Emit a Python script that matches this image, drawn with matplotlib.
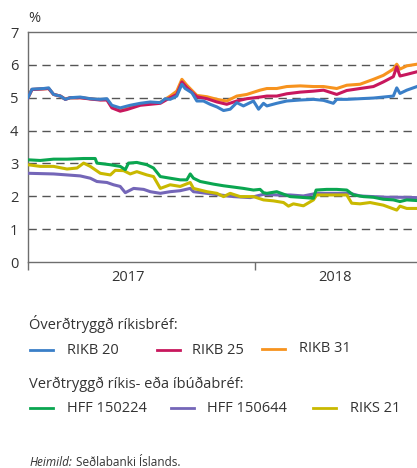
import matplotlib
matplotlib.use("Agg")
import matplotlib.pyplot as plt
from matplotlib.lines import Line2D

plt.rcParams['font.family'] = ['Open Sans', 'DejaVu Sans']

# x values: months since start of 2017
rikb_x = [0, 0.21, 0.83, 1.09, 1.35, 1.71, 1.97, 2.23, 2.76, 3.29, 3.82, 4.17, 4.43, 4.87, 5.40,
          5.93, 6.46, 6.99, 7.25, 7.51, 7.86, 8.13, 8.30, 8.66, 8.92, 9.27, 9.62, 9.98, 10.33,
          10.68, 11.03, 11.38, 11.91, 12.18, 12.44, 12.62, 13.14, 13.67, 14.38, 15.08, 15.61,
          16.13, 16.31, 16.84, 17.54, 18.25, 18.77, 19.30, 19.48, 19.65, 20.01, 20.55]
rikb20 = [5.00, 5.26, 5.28, 5.30, 5.10, 5.05, 4.95, 5.00, 5.02, 4.97, 4.95, 4.97, 4.77, 4.69, 4.77,
          4.83, 4.87, 4.85, 4.97, 4.95, 5.05, 5.41, 5.28, 5.15, 4.90, 4.90, 4.80, 4.72, 4.61,
          4.65, 4.85, 4.75, 4.90, 4.65, 4.83, 4.75, 4.83, 4.90, 4.93, 4.95, 4.92,
          4.83, 4.95, 4.95, 4.97, 4.99, 5.02, 5.05, 5.30, 5.13, 5.23, 5.34]

rikb25_x = [0, 0.21, 0.83, 1.09, 1.35, 1.71, 1.97, 2.23, 2.76, 3.29, 3.82, 4.17, 4.43, 4.87, 5.23,
            5.93, 6.99, 7.51, 7.86, 8.13, 8.39, 8.92, 9.45, 9.98, 10.50, 11.03, 11.56, 12.26,
            12.62, 13.14, 13.67, 14.38, 15.08, 15.61, 16.31, 16.84, 17.54, 18.25, 18.77, 19.30,
            19.48, 19.65, 20.01, 20.55]
rikb25 = [5.00, 5.25, 5.27, 5.28, 5.10, 5.05, 4.95, 5.00, 5.00, 4.96, 4.93, 4.93, 4.69, 4.59, 4.64,
          4.77, 4.83, 5.00, 5.10, 5.48, 5.31, 5.03, 4.97, 4.87, 4.80, 4.90, 4.97, 5.02,
          5.05, 5.05, 5.12, 5.17, 5.20, 5.23, 5.10, 5.22, 5.28, 5.34, 5.48, 5.64,
          5.94, 5.66, 5.71, 5.79]

rikb31_x = [0, 0.21, 0.83, 1.09, 1.35, 1.71, 1.97, 2.23, 2.76, 3.29, 3.82, 4.17, 4.43, 4.87, 5.23,
            5.93, 6.99, 7.51, 7.86, 8.13, 8.39, 8.92, 9.45, 9.98, 10.50, 11.03, 11.56, 12.26,
            12.62, 13.14, 13.67, 14.38, 15.08, 15.61, 16.31, 16.84, 17.54, 18.25, 18.77, 19.30,
            19.48, 19.65, 20.01, 20.55]
rikb31 = [5.00, 5.25, 5.27, 5.28, 5.10, 5.05, 4.96, 5.00, 5.00, 4.97, 4.94, 4.95, 4.72, 4.63, 4.68,
          4.80, 4.86, 5.05, 5.20, 5.56, 5.38, 5.07, 5.03, 4.95, 4.90, 5.05, 5.10, 5.23,
          5.28, 5.28, 5.34, 5.36, 5.34, 5.34, 5.28, 5.38, 5.41, 5.56, 5.68, 5.87,
          6.02, 5.87, 5.97, 6.02]

hff150224_x = [0, 0.65, 1.35, 2.06, 2.94, 3.55, 3.64, 4.35, 4.87, 5.14, 5.31, 5.75, 6.28, 6.63,
               6.99, 7.51, 8.04, 8.39, 8.57, 8.74, 9.10, 9.80, 10.33, 10.86, 11.38, 11.91, 12.26,
               12.44, 12.62, 13.14, 13.85, 14.38, 15.08, 15.22, 15.78, 16.31, 16.84, 17.19,
               17.72, 18.25, 18.77, 19.30, 19.65, 20.01, 20.55]
hff150224 = [3.11, 3.09, 3.13, 3.13, 3.15, 3.15, 3.01, 2.96, 2.91, 2.81, 3.01, 3.03, 2.96, 2.86,
             2.60, 2.55, 2.50, 2.50, 2.68, 2.55, 2.45, 2.37, 2.32, 2.28, 2.24, 2.19, 2.21,
             2.11, 2.09, 2.14, 1.99, 1.97, 1.94, 2.19, 2.21, 2.21, 2.19, 2.04,
             1.99, 1.97, 1.91, 1.89, 1.84, 1.89, 1.87]

hff150644_x = [0, 1.35, 2.06, 2.76, 3.29, 3.64, 4.17, 4.52, 4.87, 5.14, 5.58, 6.11, 6.46, 6.99,
               7.51, 8.04, 8.57, 8.74, 9.45, 10.15, 10.86, 11.74, 12.44, 13.14, 13.85, 14.55,
               15.25, 16.13, 17.01, 17.54, 18.25, 18.95, 19.65, 20.55]
hff150644 = [2.70, 2.68, 2.65, 2.62, 2.55, 2.45, 2.42, 2.35, 2.30, 2.11, 2.24, 2.21, 2.14, 2.09,
             2.14, 2.17, 2.24, 2.14, 2.09, 2.04, 1.99, 1.96, 2.06, 2.04, 2.04, 2.01,
             2.09, 2.09, 2.09, 2.01, 1.99, 1.97, 1.97, 1.96]

riks21_x = [0, 0.65, 1.35, 2.06, 2.59, 2.94, 3.29, 3.82, 4.35, 4.61, 5.05, 5.40, 5.75, 6.28,
            6.63, 6.99, 7.51, 8.04, 8.57, 8.74, 9.45, 9.98, 10.33, 10.68, 11.21, 11.91, 12.44,
            12.97, 13.50, 13.76, 14.02, 14.55, 15.08, 15.25, 15.78, 16.84, 17.10, 17.54, 18.07,
            18.77, 19.48, 19.65, 20.01, 20.55]
riks21 = [2.96, 2.91, 2.91, 2.83, 2.86, 3.01, 2.91, 2.70, 2.65, 2.79, 2.78, 2.68, 2.75, 2.65,
          2.60, 2.24, 2.35, 2.30, 2.42, 2.24, 2.14, 2.09, 1.99, 2.09, 1.99, 1.99, 1.89,
          1.86, 1.81, 1.70, 1.77, 1.71, 1.89, 2.04, 2.04, 2.04, 1.79, 1.77, 1.81,
          1.73, 1.58, 1.70, 1.63, 1.63]

y_ticks = [0, 1, 2, 3, 4, 5, 6, 7]
year_labels = ['2017', '2018']
year_label_pos = [5.30, 16.22]
year_tick_pos = [0, 12]

TXT = '#333333'
AXC = '#6e6e6e'
C_BLUE = '#3a7fc8'
C_MAG = '#c8175d'
C_ORA = '#f7931e'
C_GRN = '#0aa650'
C_PUR = '#7466b8'
C_YEL = '#c9b900'

W, H = 417, 468
fig = plt.figure(figsize=(W / 100, H / 100), dpi=100)
ax = fig.add_axes([28 / W, 1 - 262 / H, 1 - 28 / W, (262 - 32) / H])

ax.set_xlim(0, 20.55)
ax.set_ylim(0, 7)

for v in y_ticks[1:-1]:
    ax.axhline(v, color='#555555', lw=1.0, dashes=(6, 4), zorder=1)

lw = 2.2
ax.plot(hff150644_x, hff150644, color=C_PUR, lw=lw, zorder=3)
ax.plot(riks21_x, riks21, color=C_YEL, lw=lw, zorder=3)
ax.plot(hff150224_x, hff150224, color=C_GRN, lw=lw, zorder=3)
ax.plot(rikb31_x, rikb31, color=C_ORA, lw=lw, zorder=3)
ax.plot(rikb25_x, rikb25, color=C_MAG, lw=lw, zorder=3)
ax.plot(rikb_x, rikb20, color=C_BLUE, lw=lw, zorder=3)

for s in ['left', 'bottom', 'top']:
    ax.spines[s].set_color(AXC)
    ax.spines[s].set_linewidth(1.0)
ax.spines['right'].set_visible(False)

ax.set_yticks(y_ticks)
ax.set_yticklabels([str(v) for v in y_ticks])
ax.tick_params(axis='y', length=0, pad=7, labelsize=10.5, labelcolor=TXT)

ax.set_xticks(year_tick_pos)
ax.set_xticklabels(['', ''])
ax.tick_params(axis='x', which='major', length=6, width=1.0, color=AXC)
ax.set_xticks(year_label_pos, minor=True)
ax.set_xticklabels(year_labels, minor=True)
ax.tick_params(axis='x', which='minor', length=0, pad=6, labelsize=10.5, labelcolor=TXT)

fig.text(28 / W, 1 - 18 / H, '%', ha='left', va='center', fontsize=10.5, color=TXT)

# Legend
def leg_item(x0, y, label, color, xt):
    fig.add_artist(Line2D([x0 / W, (x0 + 23) / W], [1 - y / H, 1 - y / H],
                          transform=fig.transFigure, color=color, lw=2.0))
    fig.text(xt / W, 1 - y / H, label, ha='left', va='center', fontsize=10.5, color=TXT)

fig.text(29 / W, 1 - 324 / H, 'Óverðtryggð ríkisbréf:', ha='left', va='center', fontsize=10.5, color=TXT)
leg_item(30, 350, 'RIKB 20', C_BLUE, 67)
leg_item(157, 350, 'RIKB 25', C_MAG, 192)
leg_item(262, 349, 'RIKB 31', C_ORA, 299)

fig.text(29 / W, 1 - 384 / H, 'Verðtryggð ríkis- eða íbúðabréf:', ha='left', va='center', fontsize=10.5, color=TXT)
leg_item(30, 408, 'HFF 150224', C_GRN, 67)
leg_item(171, 408, 'HFF 150644', C_PUR, 207)
leg_item(313, 408, 'RIKS 21', C_YEL, 350)

t1 = fig.text(30 / W, 1 - 462 / H, 'Heimild:', ha='left', va='center', fontsize=8.5,
              color=TXT, style='italic')
fig.canvas.draw()
bb = t1.get_window_extent()
fig.text((bb.x1 + 3) / W, 1 - 462 / H, 'Seðlabanki Íslands.', ha='left', va='center',
         fontsize=8.5, color=TXT)

fig.savefig('out.png', dpi=100)
